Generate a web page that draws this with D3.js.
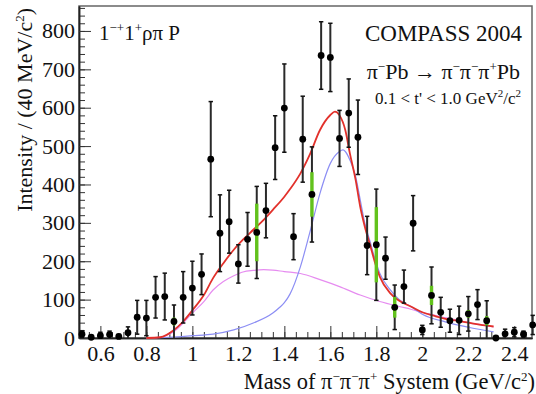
<!DOCTYPE html>
<html>
<head>
<meta charset="utf-8">
<style>
  body { margin: 0; background: #fff; }
  svg text { font-family: "Liberation Serif", "DejaVu Serif", serif; fill: #111; }
</style>
</head>
<body>
<div id="chart"></div>
<script src="https://cdn.jsdelivr.net/npm/d3@7"></script>
<script>
// bin centres (GeV/c^2), 40 MeV bins
var mass = [0.52, 0.56, 0.60, 0.64, 0.68, 0.72, 0.76, 0.80, 0.84, 0.88,
            0.92, 0.96, 1.00, 1.04, 1.08, 1.12, 1.16, 1.20, 1.24, 1.28,
            1.32, 1.36, 1.40, 1.44, 1.48, 1.52, 1.56, 1.60, 1.64, 1.68,
            1.72, 1.76, 1.80, 1.84, 1.88, 1.92, 1.96, 2.00, 2.04, 2.08,
            2.12, 2.16, 2.20, 2.24, 2.28, 2.32, 2.36, 2.40, 2.44, 2.48];
var intensity = [10, 2, 6, 9, 4, 14, 54, 52, 106, 108,
                 43, 106, 130, 166, 466, 273, 303, 193, 257, 275,
                 332, 496, 599, 264, 518, 374, 736, 731, 520, 586,
                 523, 241, 243, 208, 80, 134, 299, 21, 111, 67,
                 45, 46, 63, 87, 45, 0, 11, 15, 10, 34];
var statErr = [9, 4, 9, 9, 5, 15, 44, 46, 54, 61,
               43, 67, 70, 53, 150, 100, 82, 50, 70, 120,
               71, 83, 115, 60, 112, 124, 88, 89, 73, 89,
               97, 76, 145, 55, 58, 43, 72, 12, 74, 39,
               30, 37, 45, 39, 52, 3, 12, 12, 8, 25];

// systematic bands (green)
var sysMass = [0.92, 1.08, 1.28, 1.52, 1.80, 1.88, 2.04, 2.20, 2.28];
var sysErr  = [10, 7, 75, 58, 98, 27, 25, 10, 12];

// fit curves
var totalM = [0.80, 0.86, 0.92, 0.96, 1.00, 1.05, 1.09, 1.135, 1.18, 1.22, 1.265, 1.31, 1.35, 1.40, 1.425, 1.47, 1.51, 1.555, 1.60, 1.62, 1.64, 1.665, 1.685, 1.71, 1.73, 1.75, 1.775, 1.795, 1.815, 1.86, 1.90, 1.95, 2.00, 2.05, 2.10, 2.15, 2.20, 2.25, 2.31];
var totalI = [0, 2, 21, 43, 72, 112, 156, 195, 230, 256, 282, 308, 334, 368, 388, 429, 477, 542, 581, 590, 580, 542, 481, 412, 342, 290, 238, 195, 160, 117, 97, 82, 67, 58, 50, 45, 40, 35, 30];

var pi1M = [0.80, 0.90, 1.00, 1.09, 1.18, 1.265, 1.35, 1.38, 1.40, 1.425, 1.47, 1.51, 1.555, 1.60, 1.64, 1.655, 1.665, 1.685, 1.71, 1.73, 1.75, 1.775, 1.795, 1.815, 1.86, 1.90, 1.95, 2.00, 2.10, 2.20, 2.31];
var pi1I = [0, 2, 6, 10, 21, 39, 65, 80, 92, 115, 186, 273, 377, 455, 486, 490, 486, 464, 421, 360, 299, 247, 204, 169, 126, 100, 82, 62, 42, 28, 16];

var bkgM = [0.80, 0.845, 0.92, 0.96, 1.00, 1.05, 1.09, 1.135, 1.18, 1.22, 1.265, 1.31, 1.35, 1.40, 1.47, 1.555, 1.64, 1.73, 1.815, 1.90, 1.95, 2.00, 2.10, 2.20, 2.31];
var bkgI = [0, 1, 17, 39, 65, 95, 125, 147, 162, 172, 176, 178, 177, 173, 168, 152, 134, 112, 95, 82, 75, 67, 53, 40, 29];

var xTicks = [0.6, 0.8, 1.0, 1.2, 1.4, 1.6, 1.8, 2.0, 2.2, 2.4];
var yTicks = [0, 100, 200, 300, 400, 500, 600, 700, 800];

var width = 536, height = 394;
var frameL = 79, frameR = 532, frameT = 6, frameB = 338;

var svg = d3.select("#chart").append("svg")
  .attr("width", width)
  .attr("height", height);

var x = d3.scaleLinear().domain([0.507, 2.477]).range([frameL, frameR]);
var y = d3.scaleLinear().domain([0, 865]).range([frameB, frameT]);

// frame
svg.append("rect")
  .attr("x", frameL).attr("y", frameT)
  .attr("width", frameR - frameL).attr("height", frameB - frameT)
  .attr("fill", "none").attr("stroke", "#666").attr("stroke-width", 1.5);

// axes, ticks inside (ROOT style)
var gx = svg.append("g").attr("transform", "translate(0," + frameB + ")");
gx.append("g").call(d3.axisBottom(x).tickValues(d3.range(0.55, 2.48, 0.05)).tickSize(-6).tickSizeOuter(0).tickFormat(""));
gx.append("g").call(d3.axisBottom(x).tickValues(xTicks).tickSize(-12).tickSizeOuter(0).tickPadding(7).tickFormat(d3.format("~g")));

var gy = svg.append("g").attr("transform", "translate(" + frameL + ",0)");
gy.append("g").call(d3.axisLeft(y).tickValues(d3.range(0, 861, 20)).tickSize(-6).tickSizeOuter(0).tickFormat(""));
gy.append("g").call(d3.axisLeft(y).tickValues(yTicks).tickSize(-12).tickSizeOuter(0).tickPadding(4));

svg.selectAll(".domain").attr("stroke", "#222").attr("stroke-width", 1.5);
svg.selectAll(".tick line").attr("stroke", "#333").attr("stroke-width", 1);
svg.selectAll(".tick text")
  .attr("font-family", "Liberation Serif")
  .attr("font-size", 22)
  .attr("fill", "#111");

// fit curves
var line = d3.line()
  .x(function(d) { return x(d[0]); })
  .y(function(d) { return y(d[1]); })
  .curve(d3.curveMonotoneX);

var gCurve = svg.append("g");
gCurve.append("path")
  .attr("d", line(d3.zip(bkgM, bkgI)))
  .attr("fill", "none").attr("stroke", "#e68cf0").attr("stroke-width", 1.2);
gCurve.append("path")
  .attr("d", line(d3.zip(pi1M, pi1I)))
  .attr("fill", "none").attr("stroke", "#8c8ef4").attr("stroke-width", 1.2);
gCurve.append("path")
  .attr("d", line(d3.zip(totalM, totalI)))
  .attr("fill", "none").attr("stroke", "#e2312b").attr("stroke-width", 1.8);

// data points with stat. errors
var pts = d3.range(mass.length).map(function(i) {
  return { m: mass[i], v: intensity[i], e: statErr[i] };
});

var gErr = svg.append("g");
gErr.selectAll("line.bar")
  .data(pts).enter().append("line")
  .attr("class", "bar")
  .attr("x1", function(d) { return x(d.m); })
  .attr("x2", function(d) { return x(d.m); })
  .attr("y1", function(d) { return y(d.v + d.e); })
  .attr("y2", function(d) { return y(Math.max(d.v - d.e, 0)); })
  .attr("stroke", "#2a2a2a").attr("stroke-width", 2);
gErr.selectAll("line.capTop")
  .data(pts).enter().append("line")
  .attr("class", "capTop")
  .attr("x1", function(d) { return x(d.m) - 2.2; })
  .attr("x2", function(d) { return x(d.m) + 2.2; })
  .attr("y1", function(d) { return y(d.v + d.e); })
  .attr("y2", function(d) { return y(d.v + d.e); })
  .attr("stroke", "#111").attr("stroke-width", 1.5);
gErr.selectAll("line.capBot")
  .data(pts.filter(function(d) { return d.v - d.e > 0; })).enter().append("line")
  .attr("class", "capBot")
  .attr("x1", function(d) { return x(d.m) - 2.2; })
  .attr("x2", function(d) { return x(d.m) + 2.2; })
  .attr("y1", function(d) { return y(d.v - d.e); })
  .attr("y2", function(d) { return y(d.v - d.e); })
  .attr("stroke", "#111").attr("stroke-width", 1.5);

// systematic bands
var sys = d3.range(sysMass.length).map(function(i) {
  var j = mass.indexOf(sysMass[i]);
  return { m: sysMass[i], v: intensity[j], e: sysErr[i] };
});
svg.append("g").selectAll("rect")
  .data(sys).enter().append("rect")
  .attr("x", function(d) { return x(d.m) - 1.7; })
  .attr("width", 3.4)
  .attr("y", function(d) { return y(d.v + d.e); })
  .attr("height", function(d) { return y(Math.max(d.v - d.e, 0)) - y(d.v + d.e); })
  .attr("fill", "#62c21c");

svg.append("g").selectAll("circle")
  .data(pts).enter().append("circle")
  .attr("cx", function(d) { return x(d.m); })
  .attr("cy", function(d) { return y(d.v); })
  .attr("r", 3.4)
  .attr("fill", "#000");

// labels
var t1 = svg.append("text").attr("x", 99).attr("y", 40).attr("font-size", 21);
t1.append("tspan").text("1");
t1.append("tspan").attr("font-size", 13).attr("dy", -8).text("\u2212+");
t1.append("tspan").attr("dy", 8).text("1");
t1.append("tspan").attr("font-size", 13).attr("dy", -8).text("+");
t1.append("tspan").attr("dy", 8).text("\u03c1\u03c0 P");

svg.append("text").attr("x", 522).attr("y", 41).attr("font-size", 23)
  .attr("text-anchor", "end").text("COMPASS 2004");

var t2 = svg.append("text").attr("x", 520).attr("y", 79).attr("font-size", 22)
  .attr("text-anchor", "end");
t2.append("tspan").text("\u03c0");
t2.append("tspan").attr("font-size", 13).attr("dy", -8).text("\u2212");
t2.append("tspan").attr("dy", 8).text("Pb \u2192 \u03c0");
t2.append("tspan").attr("font-size", 13).attr("dy", -8).text("\u2212");
t2.append("tspan").attr("dy", 8).text("\u03c0");
t2.append("tspan").attr("font-size", 13).attr("dy", -8).text("\u2212");
t2.append("tspan").attr("dy", 8).text("\u03c0");
t2.append("tspan").attr("font-size", 13).attr("dy", -8).text("+");
t2.append("tspan").attr("dy", 8).text("Pb");

var t3 = svg.append("text").attr("x", 521).attr("y", 104).attr("font-size", 17)
  .attr("text-anchor", "end");
t3.append("tspan").text("0.1 < t' < 1.0 GeV");
t3.append("tspan").attr("font-size", 11).attr("dy", -7).text("2");
t3.append("tspan").attr("dy", 7).text("/c");
t3.append("tspan").attr("font-size", 11).attr("dy", -7).text("2");

// axis titles
var tx = svg.append("text").attr("x", 535).attr("y", 389).attr("font-size", 22.5)
  .attr("text-anchor", "end");
tx.append("tspan").text("Mass of \u03c0");
tx.append("tspan").attr("font-size", 13).attr("dy", -8).text("\u2212");
tx.append("tspan").attr("dy", 8).text("\u03c0");
tx.append("tspan").attr("font-size", 13).attr("dy", -8).text("\u2212");
tx.append("tspan").attr("dy", 8).text("\u03c0");
tx.append("tspan").attr("font-size", 13).attr("dy", -8).text("+");
tx.append("tspan").attr("dy", 8).text(" System (GeV/c");
tx.append("tspan").attr("font-size", 13).attr("dy", -8).text("2");
tx.append("tspan").attr("dy", 8).text(")");

var ty = svg.append("text").attr("transform", "translate(32,8) rotate(-90)")
  .attr("font-size", 22).attr("text-anchor", "end");
ty.append("tspan").text("Intensity / (40 MeV/c");
ty.append("tspan").attr("font-size", 13).attr("dy", -8).text("2");
ty.append("tspan").attr("dy", 8).text(")");
</script>
</body>
</html>
